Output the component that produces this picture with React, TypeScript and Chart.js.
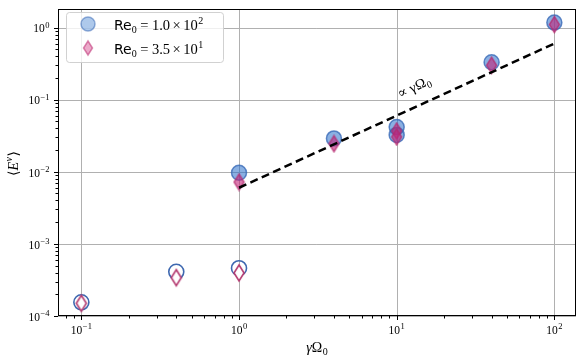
import React, { useEffect, useRef } from "react";
import { Chart, registerables } from "chart.js";

Chart.register(...registerables);

// ---- data ----
const xFilled = [1, 4, 10, 10, 40, 100];
const circleFilledY = [0.0097, 0.029, 0.0416, 0.0324, 0.33, 1.17];
const diamondFilledY = [0.0072, 0.0245, 0.0367, 0.0304, 0.3, 1.1];
const xOpen = [0.1, 0.4, 1];
const circleOpenY = [1.55e-4, 4.1e-4, 4.6e-4];
const diamondOpenY = [1.5e-4, 3.4e-4, 3.96e-4];
const fitX = [1, 100];
const fitY = [0.006, 0.6];
const xMajorExps = [-1, 0, 1, 2];
const yMajorExps = [-4, -3, -2, -1, 0];
const legendLabels = [
  { mant: "1.0", exp: "2" },
  { mant: "3.5", exp: "1" },
];
const annotationText = "∝ γΩ";

const X_MIN = 0.0711;
const X_MAX = 137;
const Y_MIN = 1e-4;
const Y_MAX = 1.8;

const SERIF = "'Liberation Serif', 'DejaVu Serif', serif";
const SANS = "'DejaVu Sans', sans-serif";

const CIRCLE_FILL = "rgba(42,112,202,0.55)";
const CIRCLE_EDGE = "rgba(50,100,180,0.75)";
const CIRCLE_OPEN_EDGE = "rgb(62,104,176)";
const DIA_FILL = "rgba(195,35,120,0.6)";
const DIA_EDGE = "rgba(180,40,110,0.75)";
const DIA_OPEN_EDGE = "rgb(180,58,112)";

function makeDiamond(w: number, h: number, fill: string, stroke: string, lw: number) {
  const c = document.createElement("canvas");
  const W = Math.ceil(w + lw * 2);
  const H = Math.ceil(h + lw * 2);
  c.width = W;
  c.height = H;
  const ctx = c.getContext("2d")!;
  ctx.beginPath();
  ctx.moveTo(W / 2, H / 2 - h / 2);
  ctx.lineTo(W / 2 + w / 2, H / 2);
  ctx.lineTo(W / 2, H / 2 + h / 2);
  ctx.lineTo(W / 2 - w / 2, H / 2);
  ctx.closePath();
  ctx.fillStyle = fill;
  ctx.fill();
  ctx.lineWidth = lw;
  ctx.strokeStyle = stroke;
  ctx.stroke();
  return c;
}

function pow10Label(ctx: CanvasRenderingContext2D, exp: number, x: number, baseline: number, align: "center" | "right") {
  const base = "10";
  const e = exp < 0 ? "\u2212" + Math.abs(exp) : String(exp);
  ctx.font = `11.5px ${SERIF}`;
  const wb = ctx.measureText(base).width;
  ctx.font = `8.5px ${SERIF}`;
  const we = ctx.measureText(e).width;
  const total = wb + we + 0.5;
  const x0 = align === "center" ? x - total / 2 : x - total;
  ctx.textAlign = "left";
  ctx.textBaseline = "alphabetic";
  ctx.fillStyle = "#000";
  ctx.font = `11.5px ${SERIF}`;
  ctx.fillText(base, x0, baseline);
  ctx.font = `8.5px ${SERIF}`;
  ctx.fillText(e, x0 + wb + 0.5, baseline - 4.5);
}

const decorPlugin = {
  id: "decor",
  beforeDatasetsDraw(chart: any) {
    const { ctx, chartArea: a, scales } = chart;
    const xs = scales.x;
    const ys = scales.y;
    ctx.save();
    ctx.strokeStyle = "#b0b0b0";
    ctx.lineWidth = 1;
    xMajorExps.forEach((e) => {
      const px = Math.round(xs.getPixelForValue(Math.pow(10, e))) + 0.5;
      ctx.beginPath();
      ctx.moveTo(px, a.top);
      ctx.lineTo(px, a.bottom);
      ctx.stroke();
    });
    yMajorExps.forEach((e) => {
      const py = Math.round(ys.getPixelForValue(Math.pow(10, e))) + 0.5;
      ctx.beginPath();
      ctx.moveTo(a.left, py);
      ctx.lineTo(a.right, py);
      ctx.stroke();
    });
    ctx.restore();
  },
  afterDatasetsDraw(chart: any) {
    const { ctx, chartArea: a, scales } = chart;
    const xs = scales.x;
    const ys = scales.y;
    ctx.save();

    // annotation
    {
      const px = xs.getPixelForValue(10.5);
      const py = ys.getPixelForValue(0.104);
      ctx.save();
      ctx.translate(px, py);
      ctx.rotate((-25 * Math.PI) / 180);
      ctx.fillStyle = "#000";
      ctx.textBaseline = "alphabetic";
      ctx.textAlign = "left";
      ctx.font = `14px ${SERIF}`;
      const w1 = ctx.measureText(annotationText).width;
      ctx.fillText(annotationText, 0, 0);
      ctx.font = `10px ${SERIF}`;
      ctx.fillText("0", w1 + 0.5, 3);
      ctx.restore();
    }

    // spines
    ctx.strokeStyle = "#000";
    ctx.lineWidth = 1;
    ctx.strokeRect(Math.round(a.left) + 0.5, Math.round(a.top) + 0.5, Math.round(a.right - a.left) - 1, Math.round(a.bottom - a.top) - 1);

    // ticks
    ctx.lineWidth = 1;
    for (let e = -2; e <= 2; e++) {
      for (let k = 1; k <= 9; k++) {
        const v = k * Math.pow(10, e);
        if (v >= X_MIN && v <= X_MAX) {
          const px = Math.round(xs.getPixelForValue(v)) + 0.5;
          const len = k === 1 ? 4 : 2.5;
          ctx.beginPath();
          ctx.moveTo(px, a.bottom);
          ctx.lineTo(px, a.bottom + len);
          ctx.stroke();
        }
      }
    }
    for (let e = -4; e <= 0; e++) {
      for (let k = 1; k <= 9; k++) {
        const v = k * Math.pow(10, e);
        if (v >= Y_MIN * 0.999 && v <= Y_MAX) {
          const py = Math.round(ys.getPixelForValue(v)) + 0.5;
          const len = k === 1 ? 4 : 2.5;
          ctx.beginPath();
          ctx.moveTo(a.left, py);
          ctx.lineTo(a.left - len, py);
          ctx.stroke();
        }
      }
    }

    // tick labels
    xMajorExps.forEach((e) => {
      const px = xs.getPixelForValue(Math.pow(10, e));
      pow10Label(ctx, e, px, a.bottom + 17.5, "center");
    });
    yMajorExps.forEach((e) => {
      const py = ys.getPixelForValue(Math.pow(10, e));
      pow10Label(ctx, e, a.left - 8.5, py + 4.8, "right");
    });

    // x axis label: γΩ0
    {
      ctx.fillStyle = "#000";
      ctx.textAlign = "left";
      ctx.font = `italic 14px ${SERIF}`;
      const wg = ctx.measureText("γ").width;
      ctx.font = `14px ${SERIF}`;
      const wo = ctx.measureText("Ω").width;
      ctx.font = `10px ${SERIF}`;
      const wz = ctx.measureText("0").width;
      const total = wg + wo + wz + 0.5;
      const cx = (a.left + a.right) / 2;
      const x0 = cx - total / 2;
      const bl = 352;
      ctx.font = `italic 14px ${SERIF}`;
      ctx.fillText("γ", x0, bl);
      ctx.font = `14px ${SERIF}`;
      ctx.fillText("Ω", x0 + wg, bl);
      ctx.font = `10px ${SERIF}`;
      ctx.fillText("0", x0 + wg + wo + 0.5, bl + 2.5);
    }

    // y axis label: ⟨E^v⟩
    {
      ctx.save();
      ctx.translate(18, (a.top + a.bottom) / 2 + 1);
      ctx.rotate(-Math.PI / 2);
      ctx.fillStyle = "#000";
      ctx.textAlign = "left";
      ctx.font = `14px ${SERIF}`;
      const wl = ctx.measureText("⟨").width;
      ctx.font = `italic 14px ${SERIF}`;
      const we = ctx.measureText("E").width;
      ctx.font = `italic 10px ${SERIF}`;
      const wv = ctx.measureText("v").width;
      ctx.font = `14px ${SERIF}`;
      const wr = ctx.measureText("⟩").width;
      const total = wl + we + wv + wr + 1;
      let x = -total / 2;
      ctx.font = `14px ${SERIF}`;
      ctx.fillText("⟨", x, 0);
      x += wl;
      ctx.font = `italic 14px ${SERIF}`;
      ctx.fillText("E", x, 0);
      x += we + 0.5;
      ctx.font = `italic 10px ${SERIF}`;
      ctx.fillText("v", x, -6);
      x += wv + 0.5;
      ctx.font = `14px ${SERIF}`;
      ctx.fillText("⟩", x, 0);
      ctx.restore();
    }

    // legend
    {
      const bx = 66.5, by = 12.5, bw = 157, bh = 50, r = 3;
      ctx.beginPath();
      ctx.moveTo(bx + r, by);
      ctx.lineTo(bx + bw - r, by);
      ctx.quadraticCurveTo(bx + bw, by, bx + bw, by + r);
      ctx.lineTo(bx + bw, by + bh - r);
      ctx.quadraticCurveTo(bx + bw, by + bh, bx + bw - r, by + bh);
      ctx.lineTo(bx + r, by + bh);
      ctx.quadraticCurveTo(bx, by + bh, bx, by + bh - r);
      ctx.lineTo(bx, by + r);
      ctx.quadraticCurveTo(bx, by, bx + r, by);
      ctx.closePath();
      ctx.fillStyle = "rgba(255,255,255,0.8)";
      ctx.fill();
      ctx.strokeStyle = "rgba(204,204,204,0.9)";
      ctx.lineWidth = 1;
      ctx.stroke();

      // circle marker
      ctx.beginPath();
      ctx.arc(88, 24, 7, 0, Math.PI * 2);
      ctx.fillStyle = "rgba(42,112,202,0.38)";
      ctx.fill();
      ctx.strokeStyle = "rgba(50,100,180,0.5)";
      ctx.lineWidth = 1.5;
      ctx.stroke();
      // diamond marker
      ctx.beginPath();
      ctx.moveTo(88, 41);
      ctx.lineTo(92.5, 48);
      ctx.lineTo(88, 55);
      ctx.lineTo(83.5, 48);
      ctx.closePath();
      ctx.fillStyle = "rgba(205,40,120,0.4)";
      ctx.fill();
      ctx.strokeStyle = "rgba(190,45,115,0.55)";
      ctx.lineWidth = 1.5;
      ctx.stroke();

      legendLabels.forEach((lab, i) => {
        const bl = 29.5 + i * 24;
        let x = 114;
        ctx.fillStyle = "#000";
        ctx.textAlign = "left";
        ctx.font = `14px ${SANS}`;
        ctx.fillText("Re", x, bl);
        x += ctx.measureText("Re").width;
        ctx.font = `10px ${SERIF}`;
        ctx.fillText("0", x, bl + 3);
        x += ctx.measureText("0").width + 3.5;
        ctx.font = `14.5px ${SERIF}`;
        ctx.fillText("=", x, bl);
        x += ctx.measureText("=").width + 3.5;
        ctx.fillText(lab.mant, x, bl);
        x += ctx.measureText(lab.mant).width + 2.5;
        ctx.fillText("×", x, bl);
        x += ctx.measureText("×").width + 2.5;
        ctx.fillText("10", x, bl);
        x += ctx.measureText("10").width + 0.5;
        ctx.font = `10px ${SERIF}`;
        ctx.fillText(lab.exp, x, bl - 6);
      });
    }
    ctx.restore();
  },
};

export default function App() {
  const ref = useRef<HTMLCanvasElement | null>(null);
  useEffect(() => {
    document.body.style.margin = "0";
    const canvas = ref.current!;
    const diaFilled = makeDiamond(10, 16, DIA_FILL, DIA_EDGE, 1.5);
    const diaOpen = makeDiamond(10, 16, "#ffffff", DIA_OPEN_EDGE, 1.6);
    const pts = (xs: number[], ys: number[]) => xs.map((x, i) => ({ x, y: ys[i] }));
    const chart = new Chart(canvas, {
      type: "scatter",
      data: {
        datasets: [
          {
            label: "fit",
            data: pts(fitX, fitY),
            showLine: true,
            borderColor: "#000",
            borderWidth: 2.5,
            borderDash: [8, 4.5],
            pointRadius: 0,
            order: 0,
          } as any,
          {
            label: "dia-filled",
            data: pts(xFilled, diamondFilledY),
            pointStyle: diaFilled,
            order: 1,
          },
          {
            label: "dia-open",
            data: pts(xOpen, diamondOpenY),
            pointStyle: diaOpen,
            order: 1,
          },
          {
            label: "circ-filled",
            data: pts(xFilled, circleFilledY),
            pointStyle: "circle",
            pointRadius: 7.5,
            backgroundColor: CIRCLE_FILL,
            borderColor: CIRCLE_EDGE,
            borderWidth: 1.5,
            order: 2,
          },
          {
            label: "circ-open",
            data: pts(xOpen, circleOpenY),
            pointStyle: "circle",
            pointRadius: 7.5,
            backgroundColor: "rgba(255,255,255,0)",
            borderColor: CIRCLE_OPEN_EDGE,
            borderWidth: 1.6,
            order: 2,
          },
        ],
      },
      options: {
        responsive: false,
        animation: false,
        devicePixelRatio: 1,
        layout: { padding: { top: 4, right: 5, left: 0, bottom: 0 } },
        plugins: { legend: { display: false }, tooltip: { enabled: false } },
        scales: {
          x: {
            type: "logarithmic",
            min: X_MIN,
            max: X_MAX,
            bounds: "data",
            grid: { display: false },
            border: { display: false },
            ticks: { display: false },
            afterFit: (s: any) => {
              s.height = 44;
            },
          },
          y: {
            type: "logarithmic",
            min: Y_MIN,
            max: Y_MAX,
            bounds: "data",
            grid: { display: false },
            border: { display: false },
            ticks: { display: false },
            afterFit: (s: any) => {
              s.width = 58;
            },
          },
        },
      } as any,
      plugins: [decorPlugin],
    });
    return () => chart.destroy();
  }, []);
  return (
    <div style={{ width: 585, height: 360 }}>
      <canvas ref={ref} width={585} height={360} style={{ display: "block" }} />
    </div>
  );
}
